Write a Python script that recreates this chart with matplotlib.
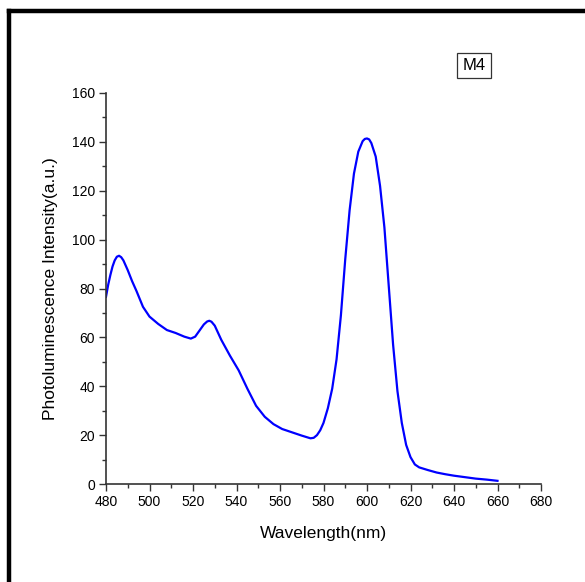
import numpy as np
import matplotlib.pyplot as plt
from matplotlib.ticker import MultipleLocator
from matplotlib.lines import Line2D

plt.rcParams['font.family'] = ['Liberation Sans', 'DejaVu Sans']

# spectrum
wavelength = [480, 481, 482, 483, 484, 485, 486, 487, 488, 490, 492, 494, 497, 500, 504,
              508, 512, 516, 519, 521, 523, 525, 526.5, 527.5, 528.5, 530, 533, 537,
              541, 545, 549, 553, 557, 561, 566, 570, 574, 575.5, 577, 578.5, 580, 582,
              584, 586, 588, 590, 592, 594, 596, 598, 599, 600, 601, 602, 604, 606,
              608, 610, 612, 614, 616, 618, 620, 622, 624, 628, 632, 636, 640, 645,
              650, 655, 660]
intensity = [76.6, 81.5, 85.5, 89, 91.5, 93, 93.4, 92.8, 91.5, 87.5, 83, 79, 72.5, 68.5, 65.5,
             63, 61.8, 60.3, 59.5, 60.3, 62.8, 65.3, 66.5, 66.8, 66.4, 64.8, 59, 52.5,
             46.5, 39, 32, 27.5, 24.5, 22.5, 21, 19.8, 18.7, 18.9, 20, 22, 25, 31,
             39, 51, 69, 92, 112, 127, 136, 140.3, 141.2, 141.4, 141, 139.5, 134, 122,
             105, 81, 57, 38, 25, 16, 11, 8, 6.8, 5.7, 4.7, 4, 3.4, 2.8,
             2.2, 1.8, 1.3]
sample = "M4"

W, H = 585, 582
fig = plt.figure(figsize=(W/100, H/100), dpi=100)
ax = fig.add_axes([106/W, 1-484/H, (541-106)/W, (484-93)/H])

ax.plot(wavelength, intensity, color='#0000ff', lw=1.6)

ax.set_xlim(480, 680)
ax.set_ylim(0, 160)
ax.xaxis.set_major_locator(MultipleLocator(20))
ax.xaxis.set_minor_locator(MultipleLocator(10))
ax.yaxis.set_major_locator(MultipleLocator(20))
ax.yaxis.set_minor_locator(MultipleLocator(10))
for s in ['top', 'right']:
    ax.spines[s].set_visible(False)
for s in ['left', 'bottom']:
    ax.spines[s].set_color('#333333')
    ax.spines[s].set_linewidth(1.2)
ax.tick_params(which='major', direction='out', length=5, width=1, color='#333333',
               labelsize=10, pad=3)
ax.tick_params(which='minor', direction='out', length=3, width=1, color='#333333')

ax.set_xlabel("Wavelength(nm)", fontsize=12.5, labelpad=12)
ax.set_ylabel("Photoluminescence Intensity(a.u.)", fontsize=12.5, labelpad=10)

fig.text(474/W, 1-65/H, sample, fontsize=12, ha='center', va='center',
         bbox=dict(boxstyle='square,pad=0.3', fc='white', ec='#333333', lw=0.9))

# outer frame (left and top edges)
fig.add_artist(Line2D([9/W, 9/W], [0, 1-11/H], transform=fig.transFigure, color='black', lw=3.2))
fig.add_artist(Line2D([9/W, 1], [1-11/H, 1-11/H], transform=fig.transFigure, color='black', lw=3.2))

fig.savefig("out.png", dpi=100)
